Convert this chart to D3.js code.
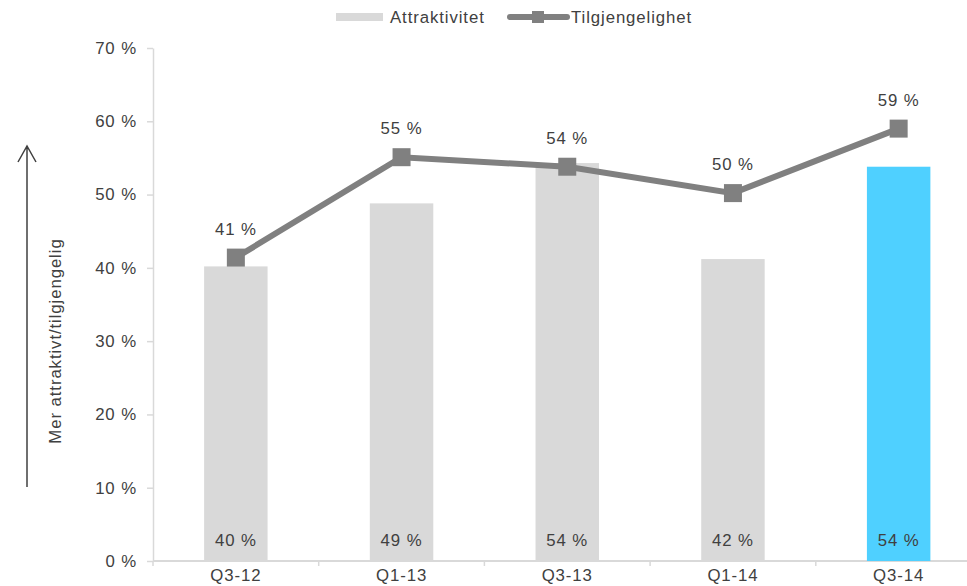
<!DOCTYPE html>
<html>
<head>
<meta charset="utf-8">
<script src="https://cdn.jsdelivr.net/npm/d3@7"></script>
<style>
  body { margin: 0; background: #fff; }
  svg text { font-family: "Liberation Sans", Arial, sans-serif; fill: #404040; letter-spacing: 0.9px; }
</style>
</head>
<body>
<div id="chart"></div>
<script>
// Data
const categories = ['Q3-12', 'Q1-13', 'Q3-13', 'Q1-14', 'Q3-14'];
const attraktivitet = [40.2, 48.8, 54.3, 41.2, 53.8];
const attraktivitetLabels = ['40 %', '49 %', '54 %', '42 %', '54 %'];
const tilgjengelighet = [41.4, 55.1, 53.8, 50.2, 59.0];
const tilgjengelighetLabels = ['41 %', '55 %', '54 %', '50 %', '59 %'];
const yTicks = [0, 10, 20, 30, 40, 50, 60, 70];

const width = 967;
const height = 586;
const fontSize = 16.8;
const axisColor = '#d9d9d9';
const barColor = '#d9d9d9';
const highlightColor = '#4fd0ff';
const lineColor = '#808080';

const svg = d3.select('#chart').append('svg')
    .attr('width', width)
    .attr('height', height);

// Scales: axis line at x=153, band ~165.7px, y 0 -> 561, 70 -> 48
const x = d3.scaleBand()
    .domain(categories)
    .range([153, 153 + 165.7 * categories.length])
    .paddingInner(0)
    .paddingOuter(0);

const y = d3.scaleLinear()
    .domain([0, 70])
    .range([561, 48]);

const barW = x.bandwidth() * 0.383;

// Y axis
const yAxis = svg.append('g')
    .attr('transform', `translate(${x.range()[0]},0)`)
    .call(d3.axisLeft(y).tickValues(yTicks).tickSize(6).tickSizeOuter(0)
        .tickFormat(d => d + ' %'));
yAxis.select('.domain').attr('stroke', axisColor).attr('stroke-width', 1.5);
yAxis.selectAll('.tick line').attr('stroke', axisColor).attr('stroke-width', 1.5);
yAxis.selectAll('.tick text')
    .attr('x', -16)
    .attr('font-size', fontSize)
    .style('fill', '#404040');

// X axis with ticks between categories
const xAxis = svg.append('g')
    .attr('transform', `translate(0,${y(0)})`);
xAxis.append('line')
    .attr('x1', x.range()[0]).attr('x2', width)
    .attr('stroke', axisColor).attr('stroke-width', 2);
xAxis.selectAll('line.tick')
    .data(categories)
    .join('line')
    .attr('class', 'tick')
    .attr('x1', d => x(d)).attr('x2', d => x(d))
    .attr('y1', 0).attr('y2', 5)
    .attr('stroke', axisColor).attr('stroke-width', 1.5);
xAxis.selectAll('text')
    .data(categories)
    .join('text')
    .attr('x', d => x(d) + x.bandwidth() / 2)
    .attr('y', 20)
    .attr('text-anchor', 'middle')
    .attr('font-size', fontSize)
    .text(d => d);

// Bars
svg.append('g')
    .selectAll('rect')
    .data(categories)
    .join('rect')
    .attr('x', d => x(d) + x.bandwidth() / 2 - barW / 2)
    .attr('y', (d, i) => y(attraktivitet[i]))
    .attr('width', barW)
    .attr('height', (d, i) => y(0) - y(attraktivitet[i]))
    .attr('fill', (d, i) => i === categories.length - 1 ? highlightColor : barColor);

// Bar labels at the base
svg.append('g')
    .selectAll('text')
    .data(categories)
    .join('text')
    .attr('x', d => x(d) + x.bandwidth() / 2)
    .attr('y', y(0) - 15)
    .attr('text-anchor', 'middle')
    .attr('font-size', fontSize)
    .text((d, i) => attraktivitetLabels[i]);

// Line
const line = d3.line()
    .x((d, i) => x(categories[i]) + x.bandwidth() / 2)
    .y(d => y(d));

svg.append('path')
    .datum(tilgjengelighet)
    .attr('fill', 'none')
    .attr('stroke', lineColor)
    .attr('stroke-width', 6)
    .attr('d', line);

svg.append('g')
    .selectAll('rect')
    .data(tilgjengelighet)
    .join('rect')
    .attr('x', (d, i) => x(categories[i]) + x.bandwidth() / 2 - 9)
    .attr('y', d => y(d) - 9)
    .attr('width', 18)
    .attr('height', 18)
    .attr('fill', lineColor);

svg.append('g')
    .selectAll('text')
    .data(tilgjengelighet)
    .join('text')
    .attr('x', (d, i) => x(categories[i]) + x.bandwidth() / 2)
    .attr('y', d => y(d) - 23)
    .attr('text-anchor', 'middle')
    .attr('font-size', fontSize)
    .text((d, i) => tilgjengelighetLabels[i]);

// Legend
const legend = svg.append('g');
legend.append('rect')
    .attr('x', 336).attr('y', 13)
    .attr('width', 47).attr('height', 8)
    .attr('fill', barColor);
legend.append('text')
    .attr('x', 390).attr('y', 23)
    .attr('font-size', fontSize)
    .text('Attraktivitet');
legend.append('line')
    .attr('x1', 510).attr('x2', 567)
    .attr('y1', 17).attr('y2', 17)
    .attr('stroke', lineColor).attr('stroke-width', 6)
    .attr('stroke-linecap', 'round');
legend.append('rect')
    .attr('x', 532).attr('y', 11)
    .attr('width', 12).attr('height', 12)
    .attr('fill', lineColor);
legend.append('text')
    .attr('x', 571).attr('y', 23)
    .attr('font-size', fontSize)
    .text('Tilgjengelighet');

// Y title with arrow
svg.append('text')
    .attr('transform', 'translate(61,341) rotate(-90)')
    .attr('text-anchor', 'middle')
    .attr('font-size', fontSize)
    .text('Mer attraktivt/tilgjengelig');

svg.append('path')
    .attr('d', 'M27,487 L27,146 M18,162 L27,146 L36,162')
    .attr('fill', 'none')
    .attr('stroke', '#404040')
    .attr('stroke-width', 1.5);
</script>
</body>
</html>
